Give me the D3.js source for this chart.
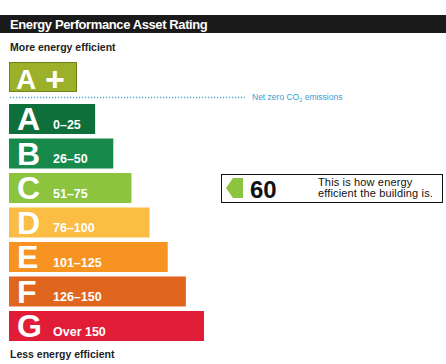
<!DOCTYPE html>
<html>
<head>
<meta charset="utf-8">
<script src="https://cdn.jsdelivr.net/npm/d3@7"></script>
<style>
  body { margin: 0; background: #fff; }
  text { font-family: "Liberation Sans", Arial, sans-serif; }
</style>
</head>
<body>
<div id="chart"></div>
<script>
// rating bands, top to bottom
const bands = ["A+", "A", "B", "C", "D", "E", "F", "G"];
const ranges = ["", "0–25", "26–50", "51–75", "76–100", "101–125", "126–150", "Over 150"];
const rating = 60;
const ratingBand = "C";

const width = 446, height = 364;

const svg = d3.select("#chart")
  .append("svg")
    .attr("width", width)
    .attr("height", height);

const colour = d3.scaleOrdinal()
  .domain(bands)
  .range(["#9cb02a", "#0e6f3a", "#17894a", "#8cc43f", "#fbbd44", "#f69321", "#e0661f", "#e01c37"]);

// bar length grows with each step down
const xlen = d3.scaleLinear()
  .domain([0, bands.length - 1])
  .range([68, 195]);

// rows A..G sit below the net-zero line
const y = d3.scaleBand()
  .domain(bands.slice(1))
  .range([104, 341])
  .paddingInner(0.13);

const left = 9;

// header
svg.append("rect")
  .attr("x", 0).attr("y", 15)
  .attr("width", width).attr("height", 18)
  .attr("fill", "#1a1a1a");
svg.append("text")
  .attr("x", 10).attr("y", 28.5)
  .attr("fill", "#fff")
  .style("font-size", "13px")
  .style("letter-spacing", "-0.4px")
  .style("font-weight", "bold")
  .text("Energy Performance Asset Rating");

svg.append("text")
  .attr("x", 10).attr("y", 51)
  .attr("fill", "#222")
  .style("font-size", "10.5px")
  .style("font-weight", "bold")
  .text("More energy efficient");

svg.append("text")
  .attr("x", 10).attr("y", 358)
  .attr("fill", "#222")
  .style("font-size", "10.5px")
  .style("font-weight", "bold")
  .text("Less energy efficient");

// A+ box
svg.append("rect")
  .attr("x", left + 0.5).attr("y", 62.5)
  .attr("width", xlen(0) - 1).attr("height", 29)
  .attr("fill", colour("A+"))
  .attr("stroke", "#6f7f1a")
  .attr("stroke-width", 1);
svg.append("text")
  .attr("x", 16).attr("y", 88.5)
  .attr("fill", "#fff")
  .style("font-size", "28px")
  .style("font-weight", "bold")
  .text("A");
svg.append("text")
  .attr("x", 45).attr("y", 91)
  .attr("fill", "#fff")
  .style("font-size", "34px")
  .style("font-weight", "bold")
  .text("+");

// net zero dotted line
svg.append("line")
  .attr("x1", 10).attr("x2", 245)
  .attr("y1", 97.5).attr("y2", 97.5)
  .attr("stroke", "#4aa3c8")
  .attr("stroke-width", 1.5)
  .attr("stroke-dasharray", "1.2,1.8");
const nz = svg.append("text")
  .attr("x", 252).attr("y", 100)
  .attr("fill", "#3d9bd0")
  .style("font-size", "8.5px");
nz.append("tspan").text("Net zero CO");
nz.append("tspan").attr("dy", 2).style("font-size", "5.5px").text("2");
nz.append("tspan").attr("dy", -2).text(" emissions");

// A..G bars
const rows = svg.selectAll("g.row")
  .data(bands.slice(1))
  .enter()
  .append("g")
    .attr("class", "row")
    .attr("transform", d => "translate(" + left + "," + y(d) + ")");

rows.append("rect")
  .attr("width", d => xlen(bands.indexOf(d)))
  .attr("height", y.bandwidth())
  .attr("fill", d => colour(d));

rows.append("text")
  .attr("x", 8).attr("y", y.bandwidth() - 4)
  .attr("fill", "#fff")
  .style("font-size", "32px")
  .style("font-weight", "bold")
  .text(d => d);

rows.append("text")
  .attr("x", 44).attr("y", y.bandwidth() - 5)
  .attr("fill", "#fff")
  .style("font-size", "12.5px")
  .style("font-weight", "bold")
  .text(d => ranges[bands.indexOf(d)]);

// result box
const by = y(ratingBand);
const res = svg.append("g")
  .attr("transform", "translate(221," + (by + 1) + ")");
res.append("rect")
  .attr("x", 0.5).attr("y", 0.5)
  .attr("width", 221).attr("height", 28)
  .attr("fill", "#fff")
  .attr("stroke", "#111")
  .attr("stroke-width", 1);
res.append("path")
  .attr("d", "M5,14 L12,4 L22,4 L22,24 L12,24 Z")
  .attr("fill", colour(ratingBand));
res.append("text")
  .attr("x", 29).attr("y", 24)
  .attr("fill", "#111")
  .style("font-size", "24px")
  .style("font-weight", "bold")
  .text(rating);
res.append("text")
  .attr("x", 97).attr("y", 12)
  .attr("fill", "#111")
  .style("font-size", "11px")
  .style("letter-spacing", "0.15px")
  .text("This is how energy");
res.append("text")
  .attr("x", 97).attr("y", 23)
  .attr("fill", "#111")
  .style("font-size", "11px")
  .style("letter-spacing", "0.15px")
  .text("efficient the building is.");
</script>
</body>
</html>
